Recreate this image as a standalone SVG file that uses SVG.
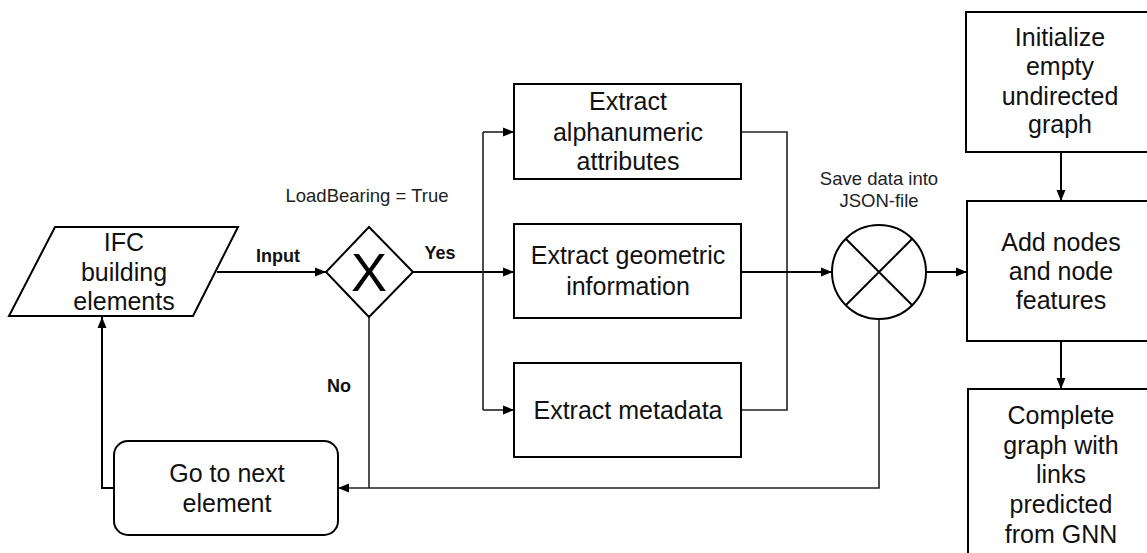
<svg xmlns="http://www.w3.org/2000/svg" width="1147" height="553" viewBox="0 0 1147 553">
<defs>
<marker id="arr" markerUnits="userSpaceOnUse" markerWidth="12" markerHeight="10" refX="11" refY="5" orient="auto">
<path d="M0,0.5 L11,5 L0,9.5 z" fill="#000"/>
</marker>
<style>
.box{fill:#fff;stroke:#000;stroke-width:2}
.t{font-family:"Liberation Sans",Arial,sans-serif;font-size:25px;fill:#111;text-anchor:middle}
.s{font-family:"Liberation Sans",Arial,sans-serif;font-size:18.5px;fill:#222;text-anchor:middle}
.b{font-family:"Liberation Sans",Arial,sans-serif;font-size:18px;font-weight:bold;fill:#111;text-anchor:middle}
.c{fill:none;stroke:#000;stroke-width:2}
.c2{fill:none;stroke:#222;stroke-width:1.6}
</style>
</defs>
<rect width="1147" height="553" fill="#fff"/>
<g id="connectors">
<path class="c" d="M217,272 H326" marker-end="url(#arr)"/>
<path class="c" d="M413,272 H514" marker-end="url(#arr)"/>
<path class="c2" d="M483,132 V410"/>
<path class="c2" d="M483,132 H514" marker-end="url(#arr)"/>
<path class="c2" d="M483,410 H514" marker-end="url(#arr)"/>
<path class="c2" d="M741,132 H787 V410 H741"/>
<path class="c" d="M741,272 H832" marker-end="url(#arr)"/>
<path class="c" d="M926,272 H967" marker-end="url(#arr)"/>
<path class="c" d="M1061,152 V201" marker-end="url(#arr)"/>
<path class="c" d="M1061,341 V389" marker-end="url(#arr)"/>
<path class="c2" d="M879,319 V488 H338" marker-end="url(#arr)"/>
<path class="c2" d="M369,317 V488"/>
<path class="c" d="M114,488 H102 V317" marker-end="url(#arr)"/>
</g>
<g id="ifc">
<polygon class="box" points="55,227 238,227 193,316 9,316"/>
<text class="t" x="124" y="251">IFC</text>
<text class="t" x="124" y="281">building</text>
<text class="t" x="124" y="310">elements</text>
</g>
<g id="gateway">
<polygon class="box" points="369,227 413,272 369,317 326,272"/>
<text x="369" y="291" style="font-family:'Liberation Sans',Arial,sans-serif;font-size:54px;fill:#000;text-anchor:middle">X</text>
<text class="s" x="367" y="202">LoadBearing = True</text>
<text class="b" x="278" y="262">Input</text>
<text class="b" x="440" y="259">Yes</text>
<text class="b" x="339" y="392">No</text>
</g>
<g id="alpha">
<rect class="box" x="514" y="84" width="227" height="95"/>
<text class="t" x="628" y="110">Extract</text>
<text class="t" x="628" y="141">alphanumeric</text>
<text class="t" x="628" y="170">attributes</text>
</g>
<g id="geom">
<rect class="box" x="514" y="224" width="227" height="94"/>
<text class="t" x="628" y="264">Extract geometric</text>
<text class="t" x="628" y="295">information</text>
</g>
<g id="meta">
<rect class="box" x="514" y="363" width="227" height="94"/>
<text class="t" x="628" y="419">Extract metadata</text>
</g>
<g id="save">
<circle class="box" cx="879" cy="272" r="47"/>
<path class="c" d="M846,239 L912,305 M912,239 L846,305"/>
<text class="s" x="879" y="185">Save data into</text>
<text class="s" x="879" y="207">JSON-file</text>
</g>
<g id="init">
<rect class="box" x="966" y="12" width="190" height="140"/>
<text class="t" x="1060" y="46">Initialize</text>
<text class="t" x="1060" y="75">empty</text>
<text class="t" x="1060" y="105">undirected</text>
<text class="t" x="1060" y="133">graph</text>
</g>
<g id="addnodes">
<rect class="box" x="967" y="201" width="190" height="140"/>
<text class="t" x="1061" y="251">Add nodes</text>
<text class="t" x="1061" y="280">and node</text>
<text class="t" x="1061" y="309">features</text>
</g>
<g id="complete">
<rect class="box" x="968" y="389" width="190" height="180"/>
<text class="t" x="1061" y="424">Complete</text>
<text class="t" x="1061" y="454">graph with</text>
<text class="t" x="1061" y="483">links</text>
<text class="t" x="1061" y="513">predicted</text>
<text class="t" x="1061" y="543">from GNN</text>
</g>
<g id="next">
<rect class="box" x="114" y="441" width="224" height="94" rx="14" ry="14"/>
<text class="t" x="227" y="482">Go to next</text>
<text class="t" x="227" y="512">element</text>
</g>
</svg>
